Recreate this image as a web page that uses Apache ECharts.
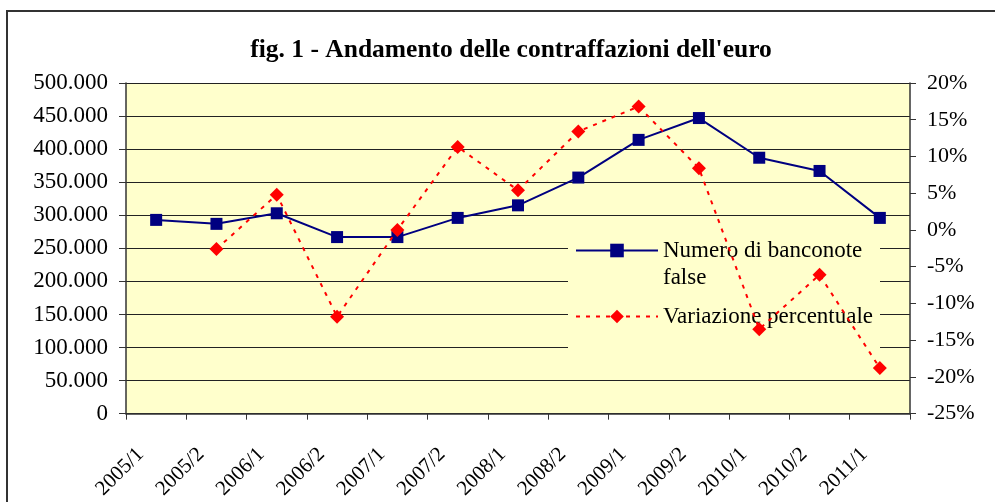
<!DOCTYPE html>
<html>
<head>
<meta charset="utf-8">
<script src="https://cdn.jsdelivr.net/npm/echarts@6/dist/echarts.min.js"></script>
<style>
html,body{margin:0;padding:0;background:#fff;}
#chart{width:995px;height:502px;}
</style>
</head>
<body>
<div id="chart"></div>
<script>
const categories = ['2005/1','2005/2','2006/1','2006/2','2007/1','2007/2','2008/1','2008/2','2009/1','2009/2','2010/1','2010/2','2011/1'];
const banconote = [293000, 287000, 303000, 267000, 267000, 296000, 315000, 357000, 414000, 447000, 387000, 367000, 296000];
const variazione = [null, -2.6, 4.8, -11.8, 0, 11.3, 5.4, 13.4, 16.8, 8.4, -13.5, -6.1, -18.8];
const leftTicks = {min: 0, max: 500000, interval: 50000};
const rightTicks = {min: -25, max: 20, interval: 5};

const serif = '"Liberation Serif", "Times New Roman", serif';
const chart = echarts.init(document.getElementById('chart'));
function fmtThousands(v){
  return String(v).replace(/\B(?=(\d{3})+(?!\d))/g, '.');
}
chart.setOption({
  animation: false,
  backgroundColor: '#ffffff',
  title: {
    text: "fig. 1 - Andamento delle contraffazioni dell'euro",
    left: 506, top: 32, textAlign: 'center',
    textStyle: {fontFamily: serif, fontWeight: 'bold', fontSize: 25.5, color: '#000'}
  },
  graphic: [{
    type: 'polyline', z: 10,
    shape: {points: [[7, 510], [7, 11], [1000, 11]]},
    style: {stroke: '#333', lineWidth: 2, fill: null}
  }, {
    type: 'rect', z: 1,
    shape: {x: 568, y: 226, width: 312, height: 131},
    style: {fill: '#FFFFCC'}
  }],
  grid: {left: 126, right: 85, top: 83, bottom: 88, show: true, backgroundColor: '#FFFFCC', borderWidth: 0},
  legend: {
    orient: 'vertical', left: 575, top: 210, z: 2,
    padding: 0,
    itemWidth: 82, itemHeight: 17, itemGap: 12,
    textStyle: {fontFamily: serif, fontSize: 23, color: '#000', lineHeight: 27},
    data: [
      {name: 'Numero di banconote false'},
      {name: 'Variazione percentuale'}
    ],
    formatter: function(n){ return n === 'Numero di banconote false' ? ' \nNumero di banconote\nfalse' : n; }
  },
  xAxis: {
    type: 'category', data: categories, boundaryGap: true,
    axisLine: {lineStyle: {color: '#333', width: 1.5}},
    axisTick: {show: true, length: 6, lineStyle: {color: '#333'}},
    axisLabel: {rotate: 45, interval: 0, margin: 22, padding: [0, 22, 0, 0], fontFamily: serif, fontSize: 21, color: '#000'},
    splitLine: {show: false}
  },
  yAxis: [{
    type: 'value', position: 'left',
    min: leftTicks.min, max: leftTicks.max, interval: leftTicks.interval,
    axisLine: {show: true, lineStyle: {color: '#333', width: 1.5}},
    axisTick: {show: true, length: 7, lineStyle: {color: '#333'}},
    axisLabel: {margin: 18, fontFamily: serif, fontSize: 23, color: '#000', formatter: fmtThousands},
    splitLine: {show: true, lineStyle: {color: '#222', width: 1}}
  }, {
    type: 'value', position: 'right',
    min: rightTicks.min, max: rightTicks.max, interval: rightTicks.interval,
    axisLine: {show: true, lineStyle: {color: '#333', width: 1.5}},
    axisTick: {show: true, length: 6, inside: false, lineStyle: {color: '#333'}},
    axisLabel: {margin: 17, fontFamily: serif, fontSize: 22, color: '#000', formatter: '{value}%'},
    splitLine: {show: false}
  }],
  series: [{
    name: 'Numero di banconote false', type: 'line', yAxisIndex: 0, z: 3,
    data: banconote,
    symbol: 'rect', symbolSize: 12,
    itemStyle: {color: '#000080'},
    lineStyle: {color: '#000080', width: 2}
  }, {
    name: 'Variazione percentuale', type: 'line', yAxisIndex: 1, z: 4,
    data: variazione,
    symbol: 'diamond', symbolSize: 14,
    itemStyle: {color: '#FF0000'},
    lineStyle: {color: '#FF0000', width: 2, type: [4, 6]}
  }]
});
</script>
</body>
</html>
